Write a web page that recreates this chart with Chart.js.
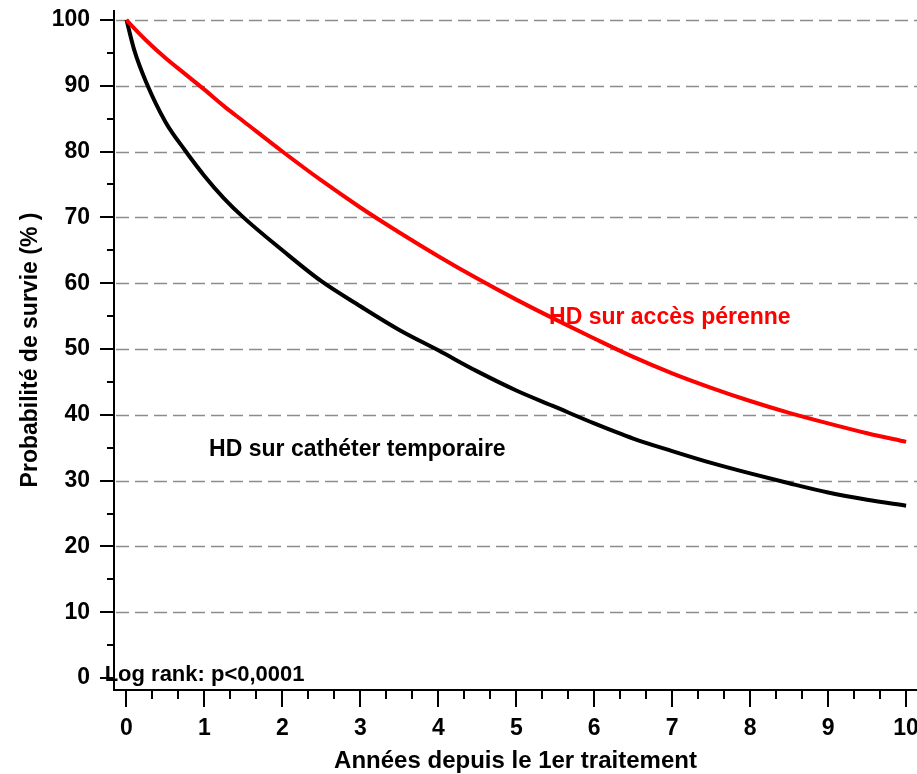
<!DOCTYPE html>
<html>
<head>
<meta charset="utf-8">
<script src="https://cdn.jsdelivr.net/npm/chart.js@4.4.1/dist/chart.umd.min.js"></script>
<style>
  html, body { margin: 0; background: #fff; }
  canvas { display: block; }
</style>
</head>
<body>
<canvas id="survie" width="917" height="774"></canvas>
<script>
// years since first treatment
const years = [0, 0.1, 0.25, 0.5, 0.75, 1, 1.25, 1.5, 2, 2.5, 3, 3.5, 4, 4.5, 5, 5.5, 6, 6.5, 7, 7.5, 8, 8.5, 9, 9.5, 10];
// survival (%) - HD sur accès pérenne
const perenne = [100, 98.7, 96.9, 94.2, 91.8, 89.4, 86.9, 84.6, 80, 75.6, 71.5, 67.7, 64.1, 60.7, 57.5, 54.5, 51.6, 48.8, 46.3, 44.1, 42.1, 40.3, 38.7, 37.2, 35.9];
// survival (%) - HD sur cathéter temporaire
const catheter = [100, 95.4, 90.6, 84.5, 80.2, 76.3, 72.9, 70, 65, 60.3, 56.5, 52.9, 49.8, 46.6, 43.7, 41.2, 38.7, 36.4, 34.5, 32.7, 31.1, 29.6, 28.2, 27.1, 26.2];

const yTicks = [0, 10, 20, 30, 40, 50, 60, 70, 80, 90, 100];
const yMinor = [5, 15, 25, 35, 45, 55, 65, 75, 85, 95];
const xTicks = [0, 1, 2, 3, 4, 5, 6, 7, 8, 9, 10];

const FONT = '"Liberation Sans", Arial, sans-serif';

function pts(values) {
  return years.map((t, i) => ({ x: t, y: values[i] }));
}

// text notes placed in data coordinates
const notes = [
  { text: 'HD sur cathéter temporaire', x: 1.06, y: 34.7, color: '#000', size: 23 },
  { text: 'HD sur accès pérenne', x: 5.42, y: 54.7, color: '#ff0000', size: 23 },
  { text: 'Log rank: p<0,0001', x: -0.28, y: 0.5, color: '#000', size: 22 }
];

const decor = {
  id: 'decor',
  beforeDatasetsDraw(chart) {
    const { ctx, chartArea, scales: { y } } = chart;
    ctx.save();
    ctx.strokeStyle = '#8c8c8c';
    ctx.lineWidth = 1.5;
    ctx.setLineDash([13, 6]);
    yTicks.filter(v => v > 0).forEach(v => {
      const py = Math.round(y.getPixelForValue(v)) + 0.5;
      ctx.beginPath();
      ctx.moveTo(chartArea.left + 2, py);
      ctx.lineTo(chart.width, py);
      ctx.stroke();
    });
    ctx.restore();
  },
  afterDraw(chart) {
    const { ctx, chartArea, scales: { x, y } } = chart;
    const left = chartArea.left, bottom = chartArea.bottom;
    ctx.save();
    ctx.strokeStyle = '#000';
    ctx.lineWidth = 2;
    ctx.setLineDash([]);
    // axis lines
    ctx.beginPath();
    ctx.moveTo(left, chartArea.top);
    ctx.lineTo(left, bottom);
    ctx.lineTo(chart.width, bottom);
    ctx.stroke();
    // y ticks
    ctx.beginPath();
    yTicks.forEach(v => {
      const py = Math.round(y.getPixelForValue(v));
      ctx.moveTo(left - 14, py);
      ctx.lineTo(left, py);
    });
    yMinor.forEach(v => {
      const py = Math.round(y.getPixelForValue(v));
      ctx.moveTo(left - 7, py);
      ctx.lineTo(left, py);
    });
    // x ticks (major every year, minor every third of a year)
    xTicks.forEach(v => {
      const px = Math.round(x.getPixelForValue(v));
      ctx.moveTo(px, bottom);
      ctx.lineTo(px, bottom + 17);
      if (v < 10) {
        [1 / 3, 2 / 3].forEach(f => {
          const mx = Math.round(x.getPixelForValue(v + f));
          ctx.moveTo(mx, bottom);
          ctx.lineTo(mx, bottom + 9);
        });
      }
    });
    ctx.stroke();
    // notes
    ctx.textAlign = 'left';
    ctx.textBaseline = 'middle';
    notes.forEach(n => {
      ctx.font = 'bold ' + n.size + 'px ' + FONT;
      ctx.fillStyle = n.color;
      ctx.fillText(n.text, x.getPixelForValue(n.x), y.getPixelForValue(n.y));
    });
    ctx.restore();
  }
};

new Chart(document.getElementById('survie'), {
  type: 'line',
  data: {
    datasets: [
      {
        label: 'HD sur accès pérenne',
        data: pts(perenne),
        borderColor: '#ff0000',
        borderWidth: 4,
        pointRadius: 0,
        cubicInterpolationMode: 'monotone'
      },
      {
        label: 'HD sur cathéter temporaire',
        data: pts(catheter),
        borderColor: '#000000',
        borderWidth: 4,
        pointRadius: 0,
        cubicInterpolationMode: 'monotone'
      }
    ]
  },
  options: {
    responsive: false,
    devicePixelRatio: 1,
    animation: false,
    layout: { padding: { left: 0, right: 0, top: 10, bottom: 0 } },
    plugins: {
      legend: { display: false },
      tooltip: { enabled: false }
    },
    scales: {
      x: {
        type: 'linear',
        min: -0.16,
        max: 10.14,
        afterBuildTicks: s => { s.ticks = xTicks.map(v => ({ value: v })); },
        afterFit: s => { s.height = 84; s.paddingLeft = 0; s.paddingRight = 0; },
        grid: { display: false },
        border: { display: false },
        ticks: {
          padding: 17,
          maxRotation: 0,
          color: '#000',
          font: { family: FONT, size: 23, weight: 'bold' }
        },
        title: {
          display: true,
          text: 'Années depuis le 1er traitement',
          color: '#000',
          padding: { top: 0, bottom: -2 },
          font: { family: FONT, size: 24, weight: 'bold' }
        }
      },
      y: {
        min: -1.8,
        max: 101.5,
        afterBuildTicks: s => { s.ticks = yTicks.map(v => ({ value: v })); },
        afterFit: s => { s.width = 114; s.paddingTop = 0; s.paddingBottom = 0; },
        grid: { display: false },
        border: { display: false },
        ticks: {
          padding: 16,
          color: '#000',
          font: { family: FONT, size: 23, weight: 'bold' }
        },
        title: {
          display: true,
          text: 'Probabilité de survie (% )',
          color: '#000',
          padding: { top: 17, bottom: 0 },
          font: { family: FONT, size: 23, weight: 'bold' }
        }
      }
    }
  },
  plugins: [decor]
});
</script>
</body>
</html>
